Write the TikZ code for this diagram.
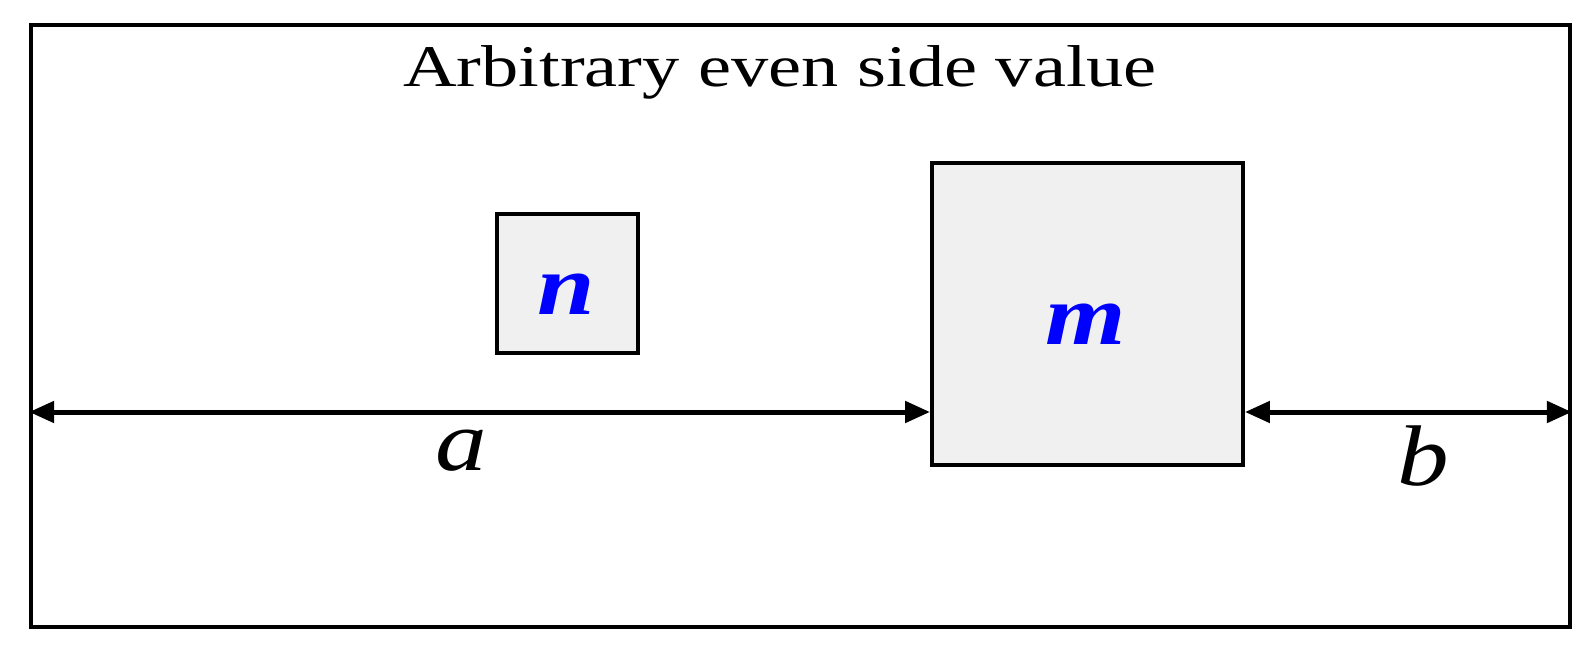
\documentclass[tikz,border=0pt]{standalone}
\usepackage{fontspec}
\setmainfont{Liberation Serif}
\usetikzlibrary{arrows.meta}
\definecolor{boxgray}{HTML}{F0F0F0}
\definecolor{labelblue}{RGB}{0,0,255}
\tikzset{
  frame/.style={draw=black, line width=0.08cm, inner sep=0pt},
  sqbox/.style={draw=black, fill=boxgray, line width=0.08cm, inner sep=0pt},
  dimarrow/.style={line width=0.1cm, {Triangle[length=0.5cm,width=0.42cm]}-{Triangle[length=0.5cm,width=0.42cm]}},
  titletext/.style={anchor=base, inner sep=0pt, font=\fontsize{33.6pt}{36pt}\selectfont},
  dimtext/.style={anchor=base, inner sep=0pt, font=\fontsize{49pt}{52pt}\selectfont\itshape},
  boxtext/.style={anchor=base, inner sep=0pt, text=labelblue, font=\fontsize{49pt}{52pt}\selectfont\bfseries\itshape}
}
\begin{document}
\begin{tikzpicture}[x=0.02cm, y=-0.02cm]
\useasboundingbox (0,0) rectangle (1596,655);
\node[frame, minimum width=30.78cm, minimum height=12.04cm] (frame) at (800.5,326) {};
\node[sqbox, minimum width=2.82cm, minimum height=2.78cm] (n) at (567.5,283.5) {};
\node[sqbox, minimum width=6.22cm, minimum height=6.04cm] (m) at (1087.5,314) {};
\node[titletext] (title) at (780,87) {\scalebox{1.26}[1]{Arbitrary even side value}};
\node[boxtext] (nlab) at (566,315) {\scalebox{1.2}[1]{n}};
\node[boxtext] (mlab) at (1086,344) {\scalebox{1.2}[1]{m}};
\coordinate (aL) at (frame.west |- 0,412);
\coordinate (aR) at (m.west |- 0,412);
\coordinate (bL) at (m.east |- 0,412);
\coordinate (bR) at (frame.east |- 0,412);
\draw[dimarrow] (aL) -- (aR);
\draw[dimarrow] (bL) -- (bR);
\node[dimtext] (alab) at (461,470) {\scalebox{1.2}[1]{a}};
\node[dimtext] (blab) at (1423,485) {\scalebox{1.2}[1]{b}};
\end{tikzpicture}
\end{document}
